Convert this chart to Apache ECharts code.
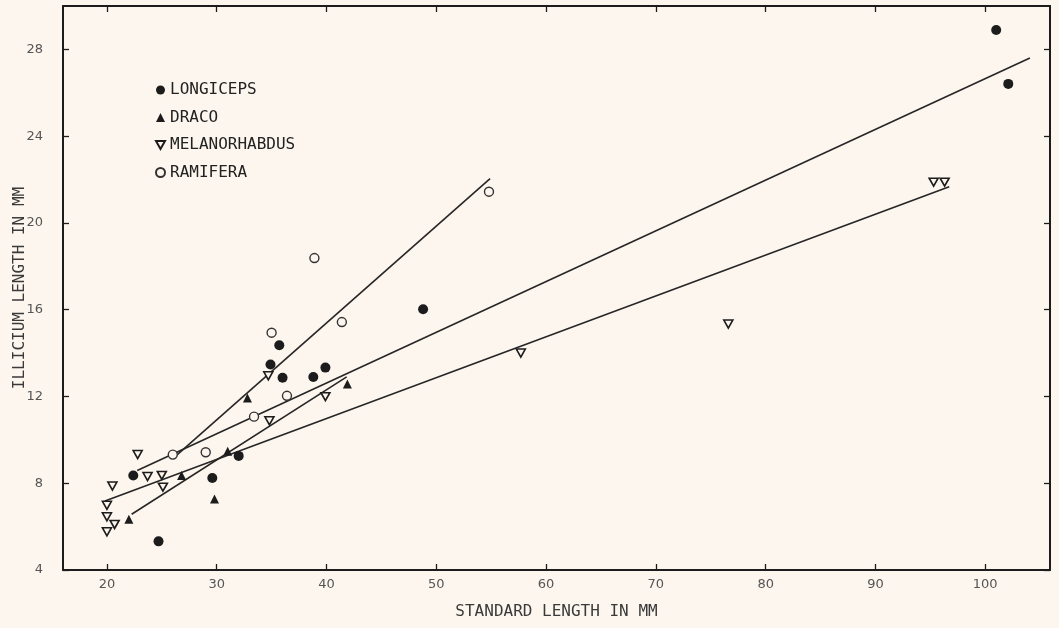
<!DOCTYPE html>
<html>
<head>
<meta charset="utf-8">
<script src="https://cdn.jsdelivr.net/npm/echarts@6/dist/echarts.min.js"></script>
<style>
html,body{margin:0;padding:0;background:#fdf6ee;}
#chart{width:1059px;height:628px;}
</style>
</head>
<body>
<div id="chart"></div>
<script>
// ---- data ----
const xTicks = [20, 30, 40, 50, 60, 70, 80, 90, 100];
const yTicks = [4, 8, 12, 16, 20, 24, 28];

const longicepsX = [22.4, 24.7, 29.6, 32.0, 34.9, 35.7, 36.0, 38.8, 39.9, 48.8, 101.0, 102.1];
const longicepsY = [8.36, 5.32, 8.24, 9.26, 13.47, 14.36, 12.86, 12.90, 13.33, 16.02, 28.89, 26.41];

const dracoX = [22.0, 26.8, 29.8, 31.0, 32.8, 41.9];
const dracoY = [6.34, 8.36, 7.27, 9.47, 11.93, 12.57];

const melanoX = [20.0, 20.0, 20.7, 20.0, 20.5, 22.8, 23.7, 25.0, 25.1, 34.7, 34.8, 39.9, 57.7, 76.6, 95.3, 96.3];
const melanoY = [6.98, 6.45, 6.10, 5.76, 7.87, 9.32, 8.31, 8.36, 7.82, 12.95, 10.88, 11.99, 14.0, 15.34, 21.88, 21.88];

const ramiferaX = [26.0, 29.0, 33.4, 36.4, 35.0, 41.4, 38.9, 54.8];
const ramiferaY = [9.32, 9.43, 11.07, 12.03, 14.94, 15.43, 18.38, 21.44];

// fitted lines: [x0, x1], [y0, y1]
const longicepsLineX = [22.76, 104.07];
const longicepsLineY = [8.59, 27.60];
const dracoLineX = [22.25, 41.84];
const dracoLineY = [6.57, 12.90];
const melanoLineX = [19.82, 96.72];
const melanoLineY = [7.18, 21.67];
const ramiferaLineX = [26.0, 54.9];
const ramiferaLineY = [9.13, 22.04];

const seriesNames = ['LONGICEPS', 'DRACO', 'MELANORHABDUS', 'RAMIFERA'];

// ---- chart ----
const zip = (xs, ys) => xs.map((x, i) => [x, ys[i]]);
const BG = '#fdf6ee';
const INK = '#1c1c1c';
const downTri = 'path://M0,0 L10,0 L5,9 Z';

const chart = echarts.init(document.getElementById('chart'), null, {renderer: 'canvas'});

const lineSeries = (name, xs, ys) => ({
  name: name,
  type: 'line',
  data: zip(xs, ys),
  showSymbol: false,
  symbol: 'none',
  silent: true,
  z: 1,
  lineStyle: {color: '#262626', width: 1.6}
});

const xMin = 16.0, xMax = 105.9, yMin = 4, yMax = 30;

chart.setOption({
  backgroundColor: BG,
  animation: false,
  grid: {left: 63, right: 9, top: 6, bottom: 58, containLabel: false, outerBoundsMode: 'none'},
  legend: {
    data: seriesNames,
    orient: 'vertical',
    left: 150,
    top: 77,
    itemWidth: 9,
    itemHeight: 9,
    itemGap: 11.5,
    textStyle: {fontFamily: 'DejaVu Sans Mono', fontSize: 16, color: '#222'},
    selectedMode: false
  },
  xAxis: [{
    type: 'value', min: xMin, max: xMax, position: 'bottom',
    name: 'STANDARD LENGTH IN MM', nameLocation: 'middle', nameGap: 34, nameMoveOverlap: false,
    nameTextStyle: {fontFamily: 'DejaVu Sans Mono', fontSize: 16, color: '#3a3a3a'},
    axisLine: {show: true, lineStyle: {color: INK, width: 2}},
    axisTick: {show: true, inside: true, length: 6, customValues: xTicks, lineStyle: {color: INK, width: 1.3}},
    axisLabel: {customValues: xTicks, margin: 8, fontFamily: 'DejaVu Sans', fontSize: 13, color: '#555'},
    splitLine: {show: false}
  }, {
    type: 'value', min: xMin, max: xMax, position: 'top',
    axisLine: {show: true, lineStyle: {color: INK, width: 2}},
    axisTick: {show: true, inside: true, length: 6, customValues: xTicks, lineStyle: {color: INK, width: 1.3}},
    axisLabel: {show: false},
    splitLine: {show: false}
  }],
  yAxis: [{
    type: 'value', min: yMin, max: yMax, position: 'left',
    name: 'ILLICIUM LENGTH IN MM', nameLocation: 'middle', nameGap: 35, nameRotate: 90, nameMoveOverlap: false,
    nameTextStyle: {fontFamily: 'DejaVu Sans Mono', fontSize: 16, color: '#3a3a3a'},
    axisLine: {show: true, lineStyle: {color: INK, width: 2}},
    axisTick: {show: true, inside: true, length: 6, customValues: yTicks, lineStyle: {color: INK, width: 1.3}},
    axisLabel: {customValues: yTicks, margin: 20, fontFamily: 'DejaVu Sans', fontSize: 13, color: '#555'},
    splitLine: {show: false}
  }, {
    type: 'value', min: yMin, max: yMax, position: 'right',
    axisLine: {show: true, lineStyle: {color: INK, width: 2}},
    axisTick: {show: true, inside: true, length: 6, customValues: yTicks, lineStyle: {color: INK, width: 1.3}},
    axisLabel: {show: false},
    splitLine: {show: false}
  }],
  series: [
    lineSeries('fit-longiceps', longicepsLineX, longicepsLineY),
    lineSeries('fit-draco', dracoLineX, dracoLineY),
    lineSeries('fit-melano', melanoLineX, melanoLineY),
    lineSeries('fit-ramifera', ramiferaLineX, ramiferaLineY),
    {
      name: 'LONGICEPS', type: 'scatter', data: zip(longicepsX, longicepsY),
      symbol: 'circle', symbolSize: 10, z: 3,
      itemStyle: {color: INK, opacity: 1}
    },
    {
      name: 'DRACO', type: 'scatter', data: zip(dracoX, dracoY),
      symbol: 'triangle', symbolSize: 9, z: 3,
      itemStyle: {color: INK, opacity: 1}
    },
    {
      name: 'MELANORHABDUS', type: 'scatter', data: zip(melanoX, melanoY),
      symbol: downTri, symbolSize: [9, 8], z: 3,
      itemStyle: {color: BG, borderColor: INK, borderWidth: 1.6, opacity: 1}
    },
    {
      name: 'RAMIFERA', type: 'scatter', data: zip(ramiferaX, ramiferaY),
      symbol: 'circle', symbolSize: 9, z: 3,
      itemStyle: {color: BG, borderColor: '#333', borderWidth: 1.4, opacity: 1}
    }
  ]
});
</script>
</body>
</html>
